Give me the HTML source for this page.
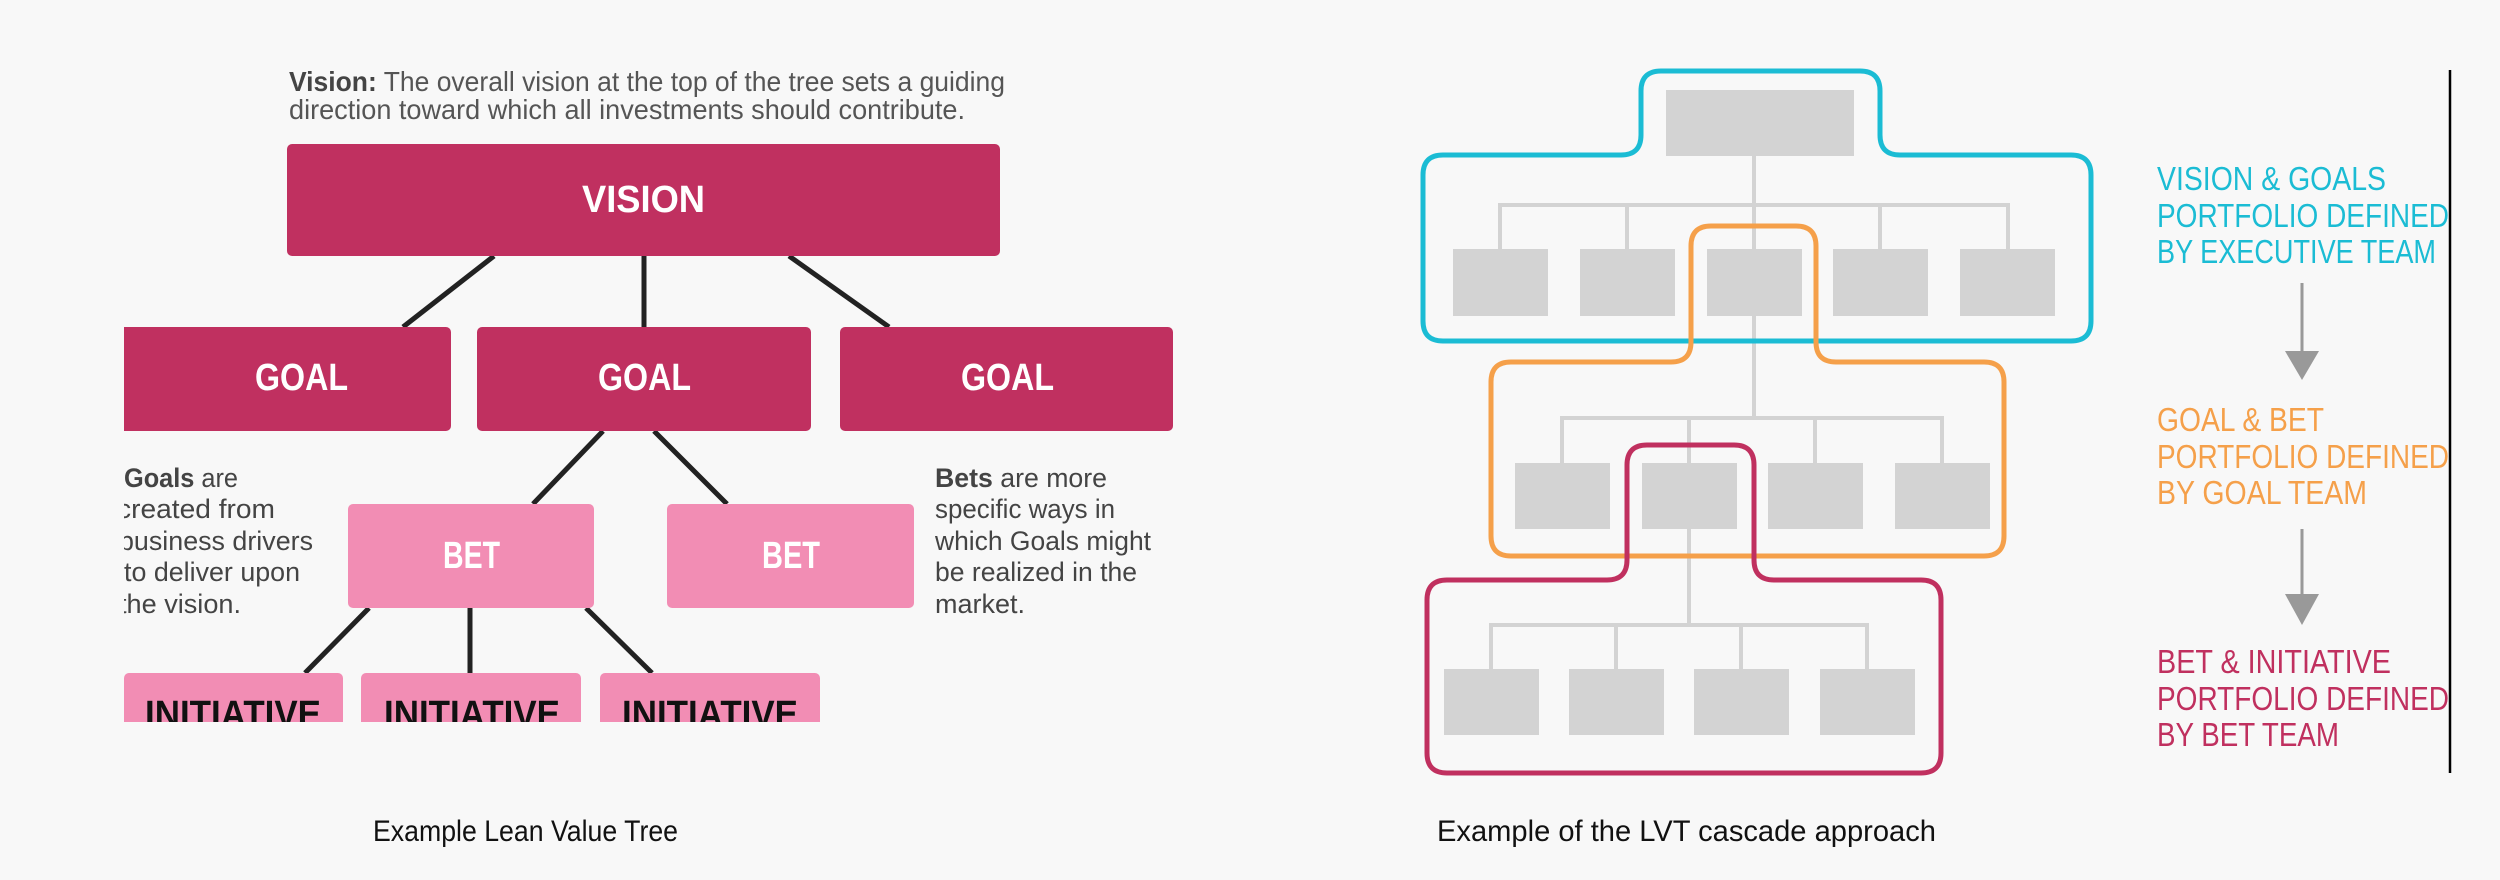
<!DOCTYPE html>
<html><head><meta charset="utf-8"><style>
html,body{margin:0;padding:0;background:#f8f8f8;}
svg{display:block;}
text{font-family:"Liberation Sans",sans-serif;}
</style></head><body>
<svg width="2500" height="880" viewBox="0 0 2500 880" xmlns="http://www.w3.org/2000/svg">
<rect width="2500" height="880" fill="#f8f8f8"/>
<defs><clipPath id="lc"><rect x="124" y="0" width="1100" height="722"/></clipPath></defs>
<g clip-path="url(#lc)">
<text x="289" y="91" font-size="28" fill="#555" textLength="716" lengthAdjust="spacingAndGlyphs"><tspan font-weight="bold" fill="#444">Vision:</tspan> The overall vision at the top of the tree sets a guiding</text>
<text x="289" y="119" font-size="28" fill="#555" textLength="676" lengthAdjust="spacingAndGlyphs">direction toward which all investments should contribute.</text>
<g stroke="#222" stroke-width="5">
<line x1="494" y1="256" x2="403" y2="327"/><line x1="644" y1="256" x2="644" y2="327"/><line x1="789" y1="256" x2="889" y2="327"/>
<line x1="603" y1="431" x2="533" y2="504"/><line x1="654" y1="431" x2="727" y2="504"/>
<line x1="369" y1="608" x2="305" y2="673"/><line x1="470" y1="608" x2="470" y2="673"/><line x1="586" y1="608" x2="652" y2="673"/>
</g>
<rect x="287" y="144" width="713" height="112" rx="5" fill="#c03060"/>
<rect x="100" y="327" width="351" height="104" rx="5" fill="#c03060"/>
<rect x="477" y="327" width="334" height="104" rx="5" fill="#c03060"/>
<rect x="840" y="327" width="333" height="104" rx="5" fill="#c03060"/>
<rect x="348" y="504" width="246" height="104" rx="5" fill="#f28db4"/>
<rect x="667" y="504" width="247" height="104" rx="5" fill="#f28db4"/>
<rect x="124" y="673" width="219" height="80" rx="5" fill="#f28db4"/>
<rect x="361" y="673" width="220" height="80" rx="5" fill="#f28db4"/>
<rect x="600" y="673" width="220" height="80" rx="5" fill="#f28db4"/>
<g font-weight="bold" fill="#fff" font-size="38">
<text x="582" y="212" textLength="123" lengthAdjust="spacingAndGlyphs">VISION</text>
<text x="255" y="390" textLength="93" lengthAdjust="spacingAndGlyphs">GOAL</text>
<text x="598" y="390" textLength="93" lengthAdjust="spacingAndGlyphs">GOAL</text>
<text x="961" y="390" textLength="93" lengthAdjust="spacingAndGlyphs">GOAL</text>
<text x="443" y="568" textLength="57" lengthAdjust="spacingAndGlyphs">BET</text>
<text x="762" y="568" textLength="58" lengthAdjust="spacingAndGlyphs">BET</text>
</g>
<g font-weight="bold" fill="#111" font-size="38">
<text x="145" y="727" textLength="176" lengthAdjust="spacingAndGlyphs">INITIATIVE</text>
<text x="384" y="727" textLength="176" lengthAdjust="spacingAndGlyphs">INITIATIVE</text>
<text x="622" y="727" textLength="176" lengthAdjust="spacingAndGlyphs">INITIATIVE</text>
</g>
<g font-size="27" fill="#444">
<text x="124" y="487" textLength="114" lengthAdjust="spacingAndGlyphs"><tspan font-weight="bold">Goals</tspan> are</text>
<text x="117" y="518" textLength="158" lengthAdjust="spacingAndGlyphs">created from</text>
<text x="119" y="550" textLength="194" lengthAdjust="spacingAndGlyphs">business drivers</text>
<text x="124" y="581" textLength="176" lengthAdjust="spacingAndGlyphs">to deliver upon</text>
<text x="119" y="613" textLength="122" lengthAdjust="spacingAndGlyphs">the vision.</text>
<text x="935" y="487" textLength="172" lengthAdjust="spacingAndGlyphs"><tspan font-weight="bold">Bets</tspan> are more</text>
<text x="935" y="518" textLength="180" lengthAdjust="spacingAndGlyphs">specific ways in</text>
<text x="935" y="550" textLength="216" lengthAdjust="spacingAndGlyphs">which Goals might</text>
<text x="935" y="581" textLength="202" lengthAdjust="spacingAndGlyphs">be realized in the</text>
<text x="935" y="613" textLength="90" lengthAdjust="spacingAndGlyphs">market.</text>
</g>
</g>
<text x="373" y="841" font-size="30" fill="#111" textLength="305" lengthAdjust="spacingAndGlyphs">Example Lean Value Tree</text>

<g stroke="#d3d3d3" stroke-width="4" fill="none">
<line x1="1754" y1="156" x2="1754" y2="418"/>
<polyline points="1500,249 1500,205 2008,205 2008,249"/>
<line x1="1627" y1="205" x2="1627" y2="249"/><line x1="1880" y1="205" x2="1880" y2="249"/>
<polyline points="1562,463 1562,418 1942,418 1942,463"/>
<line x1="1689" y1="418" x2="1689" y2="625"/><line x1="1815" y1="418" x2="1815" y2="463"/>
<polyline points="1491,669 1491,625 1867,625 1867,669"/>
<line x1="1616" y1="625" x2="1616" y2="669"/><line x1="1741" y1="625" x2="1741" y2="669"/>
</g>
<g fill="#d3d3d3">
<rect x="1666" y="90" width="188" height="66"/>
<rect x="1453" y="249" width="95" height="67"/><rect x="1580" y="249" width="95" height="67"/><rect x="1707" y="249" width="95" height="67"/><rect x="1833" y="249" width="95" height="67"/><rect x="1960" y="249" width="95" height="67"/>
<rect x="1515" y="463" width="95" height="66"/><rect x="1642" y="463" width="95" height="66"/><rect x="1768" y="463" width="95" height="66"/><rect x="1895" y="463" width="95" height="66"/>
<rect x="1444" y="669" width="95" height="66"/><rect x="1569" y="669" width="95" height="66"/><rect x="1694" y="669" width="95" height="66"/><rect x="1820" y="669" width="95" height="66"/>
</g>
<g fill="none" stroke-width="5">
<path stroke="#1bbcd4" d="M1423,175 Q1423,155 1443,155 L1621,155 Q1641,155 1641,135 L1641,91 Q1641,71 1661,71 L1860,71 Q1880,71 1880,91 L1880,135 Q1880,155 1900,155 L2071,155 Q2091,155 2091,175 L2091,321 Q2091,341 2071,341 L1443,341 Q1423,341 1423,321 Z"/>
<path stroke="#f5a04a" d="M1491,382 Q1491,362 1511,362 L1671,362 Q1691,362 1691,342 L1691,246 Q1691,226 1711,226 L1796,226 Q1816,226 1816,246 L1816,342 Q1816,362 1836,362 L1984,362 Q2004,362 2004,382 L2004,536 Q2004,556 1984,556 L1511,556 Q1491,556 1491,536 Z"/>
<path stroke="#c0305f" d="M1427,600 Q1427,580 1447,580 L1607,580 Q1627,580 1627,560 L1627,465 Q1627,445 1647,445 L1734,445 Q1754,445 1754,465 L1754,560 Q1754,580 1774,580 L1921,580 Q1941,580 1941,600 L1941,753 Q1941,773 1921,773 L1447,773 Q1427,773 1427,753 Z"/>
</g>
<g stroke="#999" stroke-width="3"><line x1="2302" y1="283" x2="2302" y2="355"/><line x1="2302" y1="529" x2="2302" y2="598"/></g>
<g fill="#999"><polygon points="2285,351 2319,351 2302,380"/><polygon points="2285,594 2319,594 2302,625"/></g>
<g font-size="33">
<g fill="#1bbcd4">
<text x="2157" y="190" textLength="229" lengthAdjust="spacingAndGlyphs">VISION &amp; GOALS</text>
<text x="2157" y="227" textLength="292" lengthAdjust="spacingAndGlyphs">PORTFOLIO DEFINED</text>
<text x="2157" y="263" textLength="279" lengthAdjust="spacingAndGlyphs">BY EXECUTIVE TEAM</text></g>
<g fill="#f5a04a">
<text x="2157" y="431" textLength="167" lengthAdjust="spacingAndGlyphs">GOAL &amp; BET</text>
<text x="2157" y="468" textLength="292" lengthAdjust="spacingAndGlyphs">PORTFOLIO DEFINED</text>
<text x="2157" y="504" textLength="210" lengthAdjust="spacingAndGlyphs">BY GOAL TEAM</text></g>
<g fill="#c0305f">
<text x="2157" y="673" textLength="234" lengthAdjust="spacingAndGlyphs">BET &amp; INITIATIVE</text>
<text x="2157" y="710" textLength="292" lengthAdjust="spacingAndGlyphs">PORTFOLIO DEFINED</text>
<text x="2157" y="746" textLength="182" lengthAdjust="spacingAndGlyphs">BY BET TEAM</text></g>
</g>
<line x1="2450" y1="70" x2="2450" y2="773" stroke="#000" stroke-width="2.5"/>
<text x="1437" y="841" font-size="30" fill="#111" textLength="499" lengthAdjust="spacingAndGlyphs">Example of the LVT cascade approach</text>
</svg>
</body></html>
